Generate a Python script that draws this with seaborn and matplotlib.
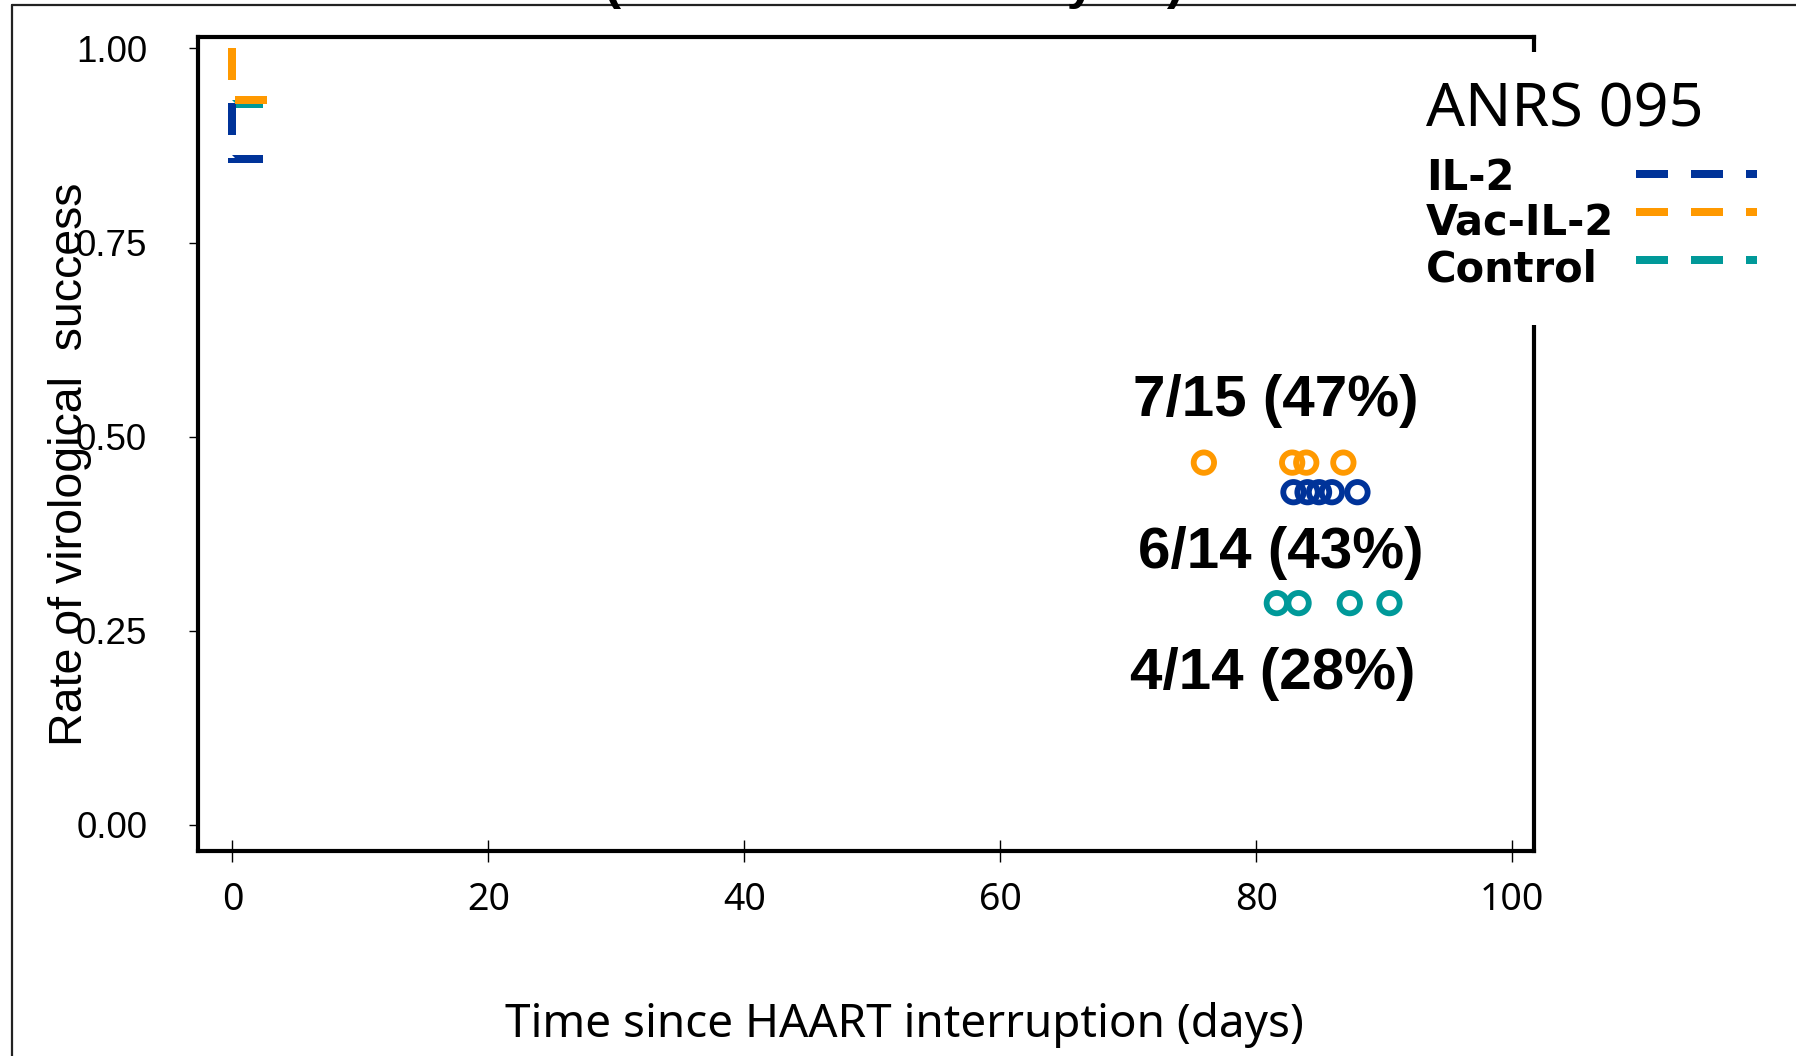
import matplotlib
matplotlib.use("Agg")
import matplotlib.pyplot as plt
from matplotlib.lines import Line2D
from matplotlib.patches import Rectangle
import seaborn as sns

# groups and colours
groups = ["IL-2", "Vac-IL-2", "Control"]
group_colors = ["#003399", "#FF9900", "#009999"]

# visible start of the Kaplan-Meier curves (days, rate)
il2_days = [0, 0, 2.6]
il2_rate = [1.0, 12 / 14, 12 / 14]
vac_days = [0, 0, 2.8]
vac_rate = [1.0, 14 / 15, 14 / 15]
ctrl_days = [0, 0, 2.5]
ctrl_rate = [1.0, 13 / 14, 13 / 14]

# censored patients at the end of follow-up
il2_cens_days = [82.9, 84.0, 84.9, 85.9, 87.9]
il2_cens_rate = 6 / 14
vac_cens_days = [75.9, 82.8, 83.9, 86.8]
vac_cens_rate = 7 / 15
ctrl_cens_days = [81.6, 83.3, 87.3, 90.4]
ctrl_cens_rate = 4 / 14

final_labels = ["6/14 (43%)", "7/15 (47%)", "4/14 (28%)"]

x_ticks = [0, 20, 40, 60, 80, 100]
y_ticks = [0.0, 0.25, 0.5, 0.75, 1.0]
y_tick_labels = ["0.00", "0.25", "0.50", "0.75", "1.00"]

sns.set_theme(style="white")
plt.rcParams["font.family"] = ["Liberation Sans", "DejaVu Sans"]
plt.rcParams["text.color"] = "black"
plt.rcParams["axes.labelcolor"] = "black"
plt.rcParams["xtick.color"] = "black"
plt.rcParams["ytick.color"] = "black"

W, H = 1796, 1056
fig = plt.figure(figsize=(W / 100, H / 100), dpi=100)
ax = fig.add_axes([0.1102, 0.1937, 0.7441, 0.7717])

dash = (0, (4, 2.875))
lw = 5.76

# curves: control first, IL-2 above it, Vac-IL-2 on top
for days, rate, col in [(ctrl_days, ctrl_rate, group_colors[2]),
                        (il2_days, il2_rate, group_colors[0]),
                        (vac_days, vac_rate, group_colors[1])]:
    sns.lineplot(x=days, y=rate, sort=False, estimator=None, color=col,
                 linewidth=lw, linestyle=dash, dash_joinstyle="miter",
                 dash_capstyle="butt", ax=ax, legend=False)

# censored marks
for days, rate, col in [(vac_cens_days, vac_cens_rate, group_colors[1]),
                        (il2_cens_days, il2_cens_rate, group_colors[0]),
                        (ctrl_cens_days, ctrl_cens_rate, group_colors[2])]:
    sns.scatterplot(x=days, y=[rate] * len(days), marker="o", s=215,
                    facecolor="none", edgecolor=col, linewidth=4.2, ax=ax,
                    legend=False, zorder=4)

ann_font = dict(family="Liberation Sans", weight="bold", fontsize=42)
ax.text(81.5, 0.5460, final_labels[1], ha="center", va="center", **ann_font)
ax.text(81.9, 0.3500, final_labels[0], ha="center", va="center", **ann_font)
ax.text(81.3, 0.1950, final_labels[2], ha="center", va="center", **ann_font)

ax.set_xlim(-2.7, 101.72)
ax.set_ylim(-0.0341, 1.0154)
ax.set_xticks(x_ticks)
ax.set_yticks(y_ticks)
ax.set_yticklabels(y_tick_labels)

for s in ax.spines.values():
    s.set_color("black")
    s.set_linewidth(3.0)

ax.tick_params(axis="x", direction="inout", length=16, width=1.0,
               pad=13, labelsize=27, bottom=True)
ax.tick_params(axis="y", direction="out", length=6.5, width=1.0,
               pad=30, labelsize=26.5, left=True)
for t in ax.get_xticklabels():
    t.set_family(["Noto Sans", "DejaVu Sans"])

ax.set_xlabel("Time since HAART interruption (days)", fontsize=33,
              family=["Noto Sans", "DejaVu Sans"])
ax.xaxis.label.set_va("center")
ax.xaxis.set_label_coords(0.529, -0.213)
# the label sits over the tick labels, as in the original slide
ax.set_ylabel("Rate of virological  success", fontsize=33.5)
ax.yaxis.label.set_va("center")
ax.yaxis.set_label_coords(-0.096, 0.475)

# legend block on the right, drawn over the right spine
fig.add_artist(Rectangle((1406 / W, 1 - 325 / H), 390 / W, 273 / H,
                         transform=fig.transFigure, facecolor="white",
                         edgecolor="none", zorder=1))
fig.text(1426 / W, 1 - 126 / H, "ANRS 095", ha="left", va="baseline",
         fontsize=44, family=["Noto Sans", "DejaVu Sans"], zorder=2)
label_base = [190, 235, 282]
line_y = [174, 212, 260]
for name, col, yb, yl in zip(groups, group_colors, label_base, line_y):
    fig.text(1426 / W, 1 - yb / H, name, ha="left", va="baseline",
             fontsize=30, weight="bold", family="DejaVu Sans", zorder=2)
    fig.add_artist(Line2D([1636 / W, 1757 / W], [1 - yl / H, 1 - yl / H],
                          transform=fig.transFigure, color=col, linewidth=lw,
                          linestyle=dash, dash_capstyle="butt", zorder=2))

# clipped title above the figure and slide frame
fig.text(0.498, 1 + 2 / H, "(intent to treat analysis)", ha="center",
         va="baseline", fontsize=37, weight="bold", family="Liberation Sans")
fig.add_artist(Line2D([12 / W, 1], [1 - 5 / H, 1 - 5 / H],
                      transform=fig.transFigure, color="#222222", linewidth=1.6))
fig.add_artist(Line2D([12 / W, 12 / W], [0, 1 - 5 / H],
                      transform=fig.transFigure, color="#222222", linewidth=1.6))

fig.savefig("out.png", dpi=100)
